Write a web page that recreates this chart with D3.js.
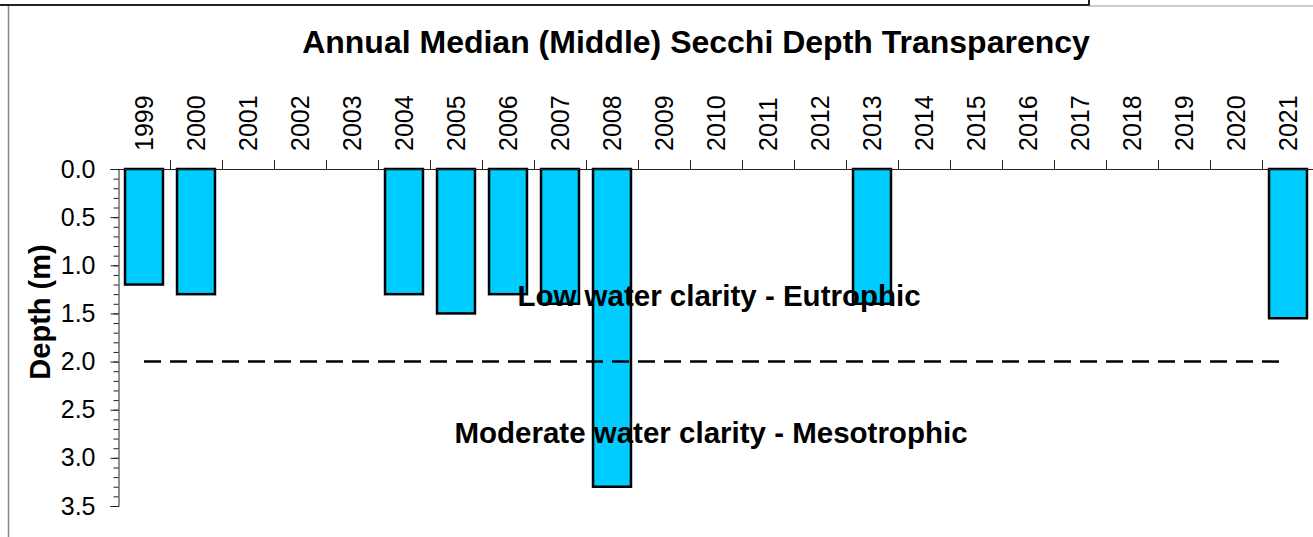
<!DOCTYPE html>
<html>
<head>
<meta charset="utf-8">
<script src="https://cdn.jsdelivr.net/npm/d3@7"></script>
<style>
  body { margin: 0; background: #fff; }
  svg { display: block; font-family: "Liberation Sans", Arial, sans-serif; }
</style>
</head>
<body>
<div id="chart"></div>
<script>
// data
const years = ["1999","2000","2001","2002","2003","2004","2005","2006","2007","2008","2009","2010",
  "2011","2012","2013","2014","2015","2016","2017","2018","2019","2020","2021"]
const depths = [1.2, 1.3, null, null, null, 1.3, 1.5, 1.3, 1.4, 3.3, null, null,
  null, null, 1.4, null, null, null, null, null, null, null, 1.55]
const yTicks = [0, 0.5, 1.0, 1.5, 2.0, 2.5, 3.0, 3.5]
const threshold = 2.0
const labelLow = "Low water clarity - Eutrophic"
const labelMod = "Moderate water clarity - Mesotrophic"

const width = 1313, height = 537
const plot = { left: 118, right: 1314, top: 169, bottom: 506 }

const svg = d3.select("#chart").append("svg")
    .attr("width", width)
    .attr("height", height)

// frame lines (spreadsheet border)
svg.append("line").attr("x1", 0).attr("x2", 1089).attr("y1", 5).attr("y2", 5)
    .attr("stroke", "#222").attr("stroke-width", 2)
svg.append("line").attr("x1", 1089).attr("x2", 1089).attr("y1", 0).attr("y2", 6)
    .attr("stroke", "#222").attr("stroke-width", 2)
svg.append("line").attr("x1", 1089).attr("x2", width).attr("y1", 6).attr("y2", 6)
    .attr("stroke", "#999").attr("stroke-width", 1)
svg.append("line").attr("x1", 8.5).attr("x2", 8.5).attr("y1", 6).attr("y2", height)
    .attr("stroke", "#888").attr("stroke-width", 1.5)

const pInner = 0.27
const xScale = d3.scaleBand()
    .domain(years)
    .range([plot.left, plot.right])
    .paddingInner(pInner)
    .paddingOuter(pInner / 2)

const yScale = d3.scaleLinear()
    .domain([0, 3.5])
    .range([plot.top, plot.bottom])

const step = xScale.step()

// title
svg.append("text")
    .attr("x", 696).attr("y", 53)
    .attr("text-anchor", "middle")
    .attr("font-size", 32).attr("font-weight", "bold")
    .text("Annual Median (Middle) Secchi Depth Transparency")

// bars
const data = years.map((y, i) => ({ year: y, depth: depths[i] })).filter(d => d.depth != null)
svg.selectAll("rect.bar")
    .data(data)
    .enter()
    .append("rect")
    .attr("class", "bar")
    .attr("x", d => xScale(d.year))
    .attr("y", yScale(0))
    .attr("width", xScale.bandwidth())
    .attr("height", d => yScale(d.depth) - yScale(0))
    .attr("fill", "#00ccff")
    .attr("stroke", "#000")
    .attr("stroke-width", 2.5)

// x axis (top) with boundary ticks
const xAxisG = svg.append("g")
svg.append("line")
    .attr("x1", plot.left).attr("x2", width)
    .attr("y1", plot.top + 0.5).attr("y2", plot.top + 0.5)
    .attr("stroke", "#222")
xAxisG.selectAll("line.xtick")
    .data(years.slice(1))
    .enter()
    .append("line")
    .attr("x1", d => xScale(d) - step * pInner / 2 + 0.5)
    .attr("x2", d => xScale(d) - step * pInner / 2 + 0.5)
    .attr("y1", plot.top - 9).attr("y2", plot.top)
    .attr("stroke", "#222")
xAxisG.selectAll("text.year")
    .data(years)
    .enter()
    .append("text")
    .attr("transform", d => `translate(${xScale(d) + xScale.bandwidth() / 2 + 9}, ${plot.top - 18}) rotate(-90)`)
    .attr("font-size", 25)
    .attr("text-anchor", "start")
    .text(d => d)

// y axis
const yAxis = d3.axisLeft(yScale)
    .tickValues(yTicks)
    .tickFormat(d3.format(".1f"))
    .tickSize(8)
    .tickPadding(15)
const yG = svg.append("g")
    .attr("transform", `translate(${plot.left + 0.5}, 0)`)
    .call(yAxis)
yG.select(".domain").attr("stroke", "#222")
yG.selectAll(".tick line").attr("stroke", "#222")
yG.selectAll(".tick text")
    .attr("font-size", 25)
    .attr("font-family", "Liberation Sans, Arial, sans-serif")
    .attr("fill", "#000")

const minor = d3.range(0, 36).map(d => d / 10)
svg.append("g")
    .attr("transform", `translate(${plot.left + 0.5}, 0)`)
    .call(d3.axisLeft(yScale).tickValues(minor).tickSize(5).tickFormat(""))
    .call(g => g.select(".domain").remove())
    .selectAll(".tick line").attr("stroke", "#222")

// y label
svg.append("text")
    .attr("transform", "translate(50, 312) rotate(-90)")
    .attr("text-anchor", "middle")
    .attr("font-size", 29).attr("font-weight", "bold")
    .text("Depth (m)")

// threshold line
svg.append("line")
    .attr("x1", xScale(years[0]) + xScale.bandwidth() / 2)
    .attr("x2", xScale(years[years.length - 1]) + xScale.bandwidth() / 2)
    .attr("y1", yScale(threshold)).attr("y2", yScale(threshold))
    .attr("stroke", "#000")
    .attr("stroke-width", 2.5)
    .attr("stroke-dasharray", "17,9")

// annotations
svg.append("text")
    .attr("x", 719).attr("y", 306)
    .attr("text-anchor", "middle")
    .attr("font-size", 29.5).attr("font-weight", "bold")
    .text(labelLow)
svg.append("text")
    .attr("x", 711).attr("y", 443)
    .attr("text-anchor", "middle")
    .attr("font-size", 29.5).attr("font-weight", "bold")
    .text(labelMod)
</script>
</body>
</html>
